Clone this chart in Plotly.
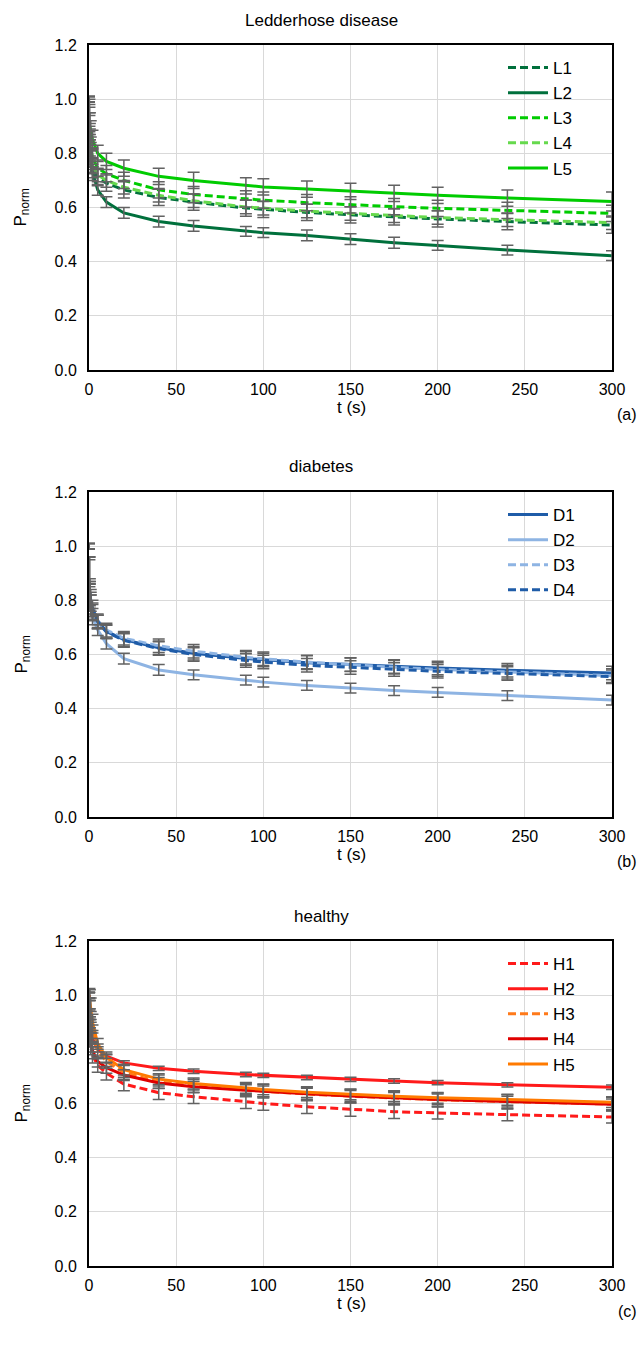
import plotly.graph_objects as go

# Sampling times (s) of the normalised relaxation curves
T = [0, 0.25, 0.5, 1, 2, 5, 10, 20, 40, 60, 90, 100, 125, 150, 175, 200, 240, 300]

# Ledderhose disease
L1 = [1.00, 0.90, 0.82, 0.78, 0.745, 0.71, 0.69, 0.665, 0.637, 0.62, 0.598, 0.593, 0.582, 0.573, 0.565, 0.558, 0.548, 0.535]
L2 = [1.00, 0.89, 0.80, 0.77, 0.73, 0.665, 0.62, 0.58, 0.548, 0.532, 0.512, 0.507, 0.497, 0.483, 0.47, 0.46, 0.443, 0.422]
L3 = [1.00, 0.93, 0.86, 0.82, 0.785, 0.745, 0.725, 0.70, 0.665, 0.648, 0.632, 0.627, 0.618, 0.61, 0.603, 0.597, 0.589, 0.578]
L4 = [1.00, 0.92, 0.84, 0.79, 0.755, 0.72, 0.70, 0.675, 0.645, 0.625, 0.602, 0.597, 0.587, 0.578, 0.57, 0.563, 0.555, 0.544]
L5 = [1.00, 0.95, 0.90, 0.88, 0.85, 0.80, 0.77, 0.745, 0.715, 0.70, 0.68, 0.676, 0.668, 0.66, 0.652, 0.645, 0.635, 0.622]
L1_err = [0.01, 0.05, 0.05, 0.04, 0.035, 0.03, 0.03, 0.03, 0.03, 0.03, 0.03, 0.03, 0.03, 0.03, 0.03, 0.03, 0.03, 0.03]
L2_err = [0.01, 0.05, 0.05, 0.04, 0.03, 0.02, 0.02, 0.02, 0.02, 0.02, 0.018, 0.018, 0.02, 0.02, 0.02, 0.018, 0.018, 0.018]
L3_err = [0.01, 0.05, 0.05, 0.04, 0.035, 0.03, 0.03, 0.03, 0.03, 0.03, 0.03, 0.03, 0.03, 0.03, 0.03, 0.03, 0.03, 0.03]
L4_err = [0.01, 0.05, 0.05, 0.04, 0.03, 0.025, 0.025, 0.025, 0.025, 0.025, 0.025, 0.025, 0.025, 0.025, 0.025, 0.025, 0.025, 0.025]
L5_err = [0.01, 0.05, 0.05, 0.04, 0.035, 0.03, 0.03, 0.03, 0.03, 0.03, 0.03, 0.03, 0.03, 0.03, 0.03, 0.03, 0.03, 0.035]

# diabetes
D1 = [1.00, 0.91, 0.83, 0.80, 0.77, 0.725, 0.685, 0.655, 0.625, 0.605, 0.585, 0.58, 0.57, 0.563, 0.556, 0.55, 0.542, 0.532]
D2 = [1.00, 0.91, 0.82, 0.78, 0.74, 0.69, 0.64, 0.585, 0.543, 0.525, 0.505, 0.498, 0.486, 0.476, 0.467, 0.46, 0.448, 0.432]
D3 = [1.00, 0.90, 0.81, 0.78, 0.755, 0.72, 0.69, 0.66, 0.632, 0.612, 0.59, 0.584, 0.572, 0.562, 0.553, 0.545, 0.535, 0.522]
D4 = [1.00, 0.91, 0.82, 0.79, 0.76, 0.72, 0.683, 0.652, 0.622, 0.60, 0.578, 0.572, 0.56, 0.552, 0.545, 0.538, 0.53, 0.518]
D1_err = [0.01, 0.05, 0.05, 0.04, 0.03, 0.025, 0.025, 0.025, 0.025, 0.025, 0.025, 0.025, 0.025, 0.025, 0.025, 0.025, 0.025, 0.025]
D2_err = [0.01, 0.05, 0.05, 0.04, 0.03, 0.02, 0.02, 0.02, 0.02, 0.018, 0.018, 0.018, 0.018, 0.018, 0.018, 0.018, 0.018, 0.018]
D3_err = [0.01, 0.05, 0.05, 0.04, 0.03, 0.025, 0.025, 0.025, 0.025, 0.025, 0.025, 0.025, 0.025, 0.025, 0.025, 0.025, 0.025, 0.025]
D4_err = [0.01, 0.05, 0.05, 0.04, 0.03, 0.025, 0.025, 0.025, 0.025, 0.025, 0.025, 0.025, 0.025, 0.025, 0.025, 0.025, 0.025, 0.025]

# healthy
H1 = [1.00, 0.93, 0.86, 0.82, 0.78, 0.74, 0.712, 0.672, 0.64, 0.625, 0.607, 0.60, 0.588, 0.578, 0.57, 0.565, 0.558, 0.55]
H2 = [1.00, 0.95, 0.91, 0.87, 0.84, 0.80, 0.775, 0.75, 0.73, 0.719, 0.707, 0.704, 0.696, 0.689, 0.683, 0.677, 0.669, 0.66]
H3 = [1.00, 0.96, 0.93, 0.90, 0.86, 0.795, 0.755, 0.715, 0.68, 0.665, 0.65, 0.645, 0.635, 0.627, 0.62, 0.614, 0.607, 0.598]
H4 = [1.00, 0.93, 0.87, 0.83, 0.795, 0.755, 0.732, 0.705, 0.676, 0.662, 0.649, 0.645, 0.636, 0.628, 0.621, 0.615, 0.607, 0.597]
H5 = [1.00, 0.985, 0.97, 0.95, 0.90, 0.82, 0.77, 0.725, 0.69, 0.674, 0.658, 0.652, 0.642, 0.634, 0.627, 0.621, 0.614, 0.605]
H1_err = [0.01, 0.05, 0.05, 0.04, 0.03, 0.025, 0.025, 0.025, 0.025, 0.025, 0.025, 0.025, 0.025, 0.025, 0.025, 0.022, 0.022, 0.022]
H2_err = [0.01, 0.04, 0.04, 0.03, 0.02, 0.01, 0.008, 0.008, 0.008, 0.008, 0.008, 0.008, 0.008, 0.008, 0.008, 0.008, 0.008, 0.008]
H3_err = [0.01, 0.05, 0.05, 0.04, 0.03, 0.025, 0.025, 0.025, 0.025, 0.025, 0.025, 0.025, 0.025, 0.025, 0.025, 0.025, 0.025, 0.025]
H4_err = [0.01, 0.05, 0.05, 0.04, 0.03, 0.02, 0.02, 0.02, 0.02, 0.02, 0.02, 0.02, 0.02, 0.02, 0.02, 0.02, 0.02, 0.02]
H5_err = [0.01, 0.04, 0.05, 0.04, 0.03, 0.02, 0.02, 0.02, 0.02, 0.02, 0.02, 0.02, 0.02, 0.02, 0.02, 0.02, 0.02, 0.02]

X_TICKS = [0, 50, 100, 150, 200, 250, 300]
Y_TICKS = [0.0, 0.2, 0.4, 0.6, 0.8, 1.0, 1.2]
TITLES = ["Ledderhose disease", "diabetes", "healthy"]
TAGS = ["(a)", "(b)", "(c)"]
# first sample index from which each panel's curves are drawn
CURVE_START = [2, 2, 0]

W, H = 642, 1349
ML, MR, MT, MB = 89, 30, 45, 83
PW, PH = W - ML - MR, H - MT - MB
# top / bottom pixel rows of the three plot areas
PANELS = [(45, 370), (492, 817), (941, 1266)]


def px(x):
    return (x - ML) / PW


def py(y):
    return (H - MB - y) / PH


FONT = "Liberation Sans, Arial, sans-serif"
DASH = "8px,4px"
groups = [
    [("L1", L1, L1_err, "#00703C", DASH), ("L2", L2, L2_err, "#00703C", "solid"),
     ("L3", L3, L3_err, "#00CC00", DASH), ("L4", L4, L4_err, "#66D94D", DASH),
     ("L5", L5, L5_err, "#00CC00", "solid")],
    [("D1", D1, D1_err, "#1F5CA8", "solid"), ("D2", D2, D2_err, "#8EB4E3", "solid"),
     ("D3", D3, D3_err, "#8EB4E3", DASH), ("D4", D4, D4_err, "#1F5CA8", DASH)],
    [("H1", H1, H1_err, "#FF1A1A", DASH), ("H2", H2, H2_err, "#FF1A1A", "solid"),
     ("H3", H3, H3_err, "#FF7A1A", DASH), ("H4", H4, H4_err, "#E00000", "solid"),
     ("H5", H5, H5_err, "#FF7A00", "solid")],
]

fig = go.Figure()
layout = dict(
    width=W, height=H, margin=dict(l=ML, r=MR, t=MT, b=MB),
    paper_bgcolor="white", plot_bgcolor="white",
    font=dict(family=FONT, size=16, color="#000"),
    annotations=[],
)

for i, series in enumerate(groups):
    n = "" if i == 0 else str(i + 1)
    xa, ya = "x" + n, "y" + n
    leg = "legend" + n
    top, bot = PANELS[i]
    s = CURVE_START[i]
    # fitted curves
    for name, vals, err, color, dash in series:
        fig.add_trace(go.Scatter(
            x=T[s:], y=vals[s:], mode="lines", name=name, xaxis=xa, yaxis=ya, legend=leg,
            line=dict(color=color, width=3, dash=dash),
        ))
    # measured points with standard deviation bars
    for name, vals, err, color, dash in series:
        fig.add_trace(go.Scatter(
            x=T, y=vals, mode="markers", showlegend=False, xaxis=xa, yaxis=ya,
            marker=dict(size=1, color="rgba(0,0,0,0)"),
            error_y=dict(type="data", array=err, visible=True, color="#626262",
                         thickness=1.5, width=6),
            hoverinfo="skip",
        ))

    axis_common = dict(
        showgrid=True, gridcolor="#D9D9D9", gridwidth=1,
        showline=True, linecolor="#000", linewidth=2, mirror=True,
        zeroline=False, ticks="", tickfont=dict(family=FONT, size=16, color="#000"),
    )
    layout["xaxis" + n] = dict(axis_common, domain=[0, 1], range=[0, 300],
                               tickvals=X_TICKS, anchor=ya, ticklabelstandoff=4)
    layout["yaxis" + n] = dict(axis_common, domain=[py(bot), py(top)], range=[0, 1.2],
                               tickvals=Y_TICKS, tickformat=".1f", anchor=xa,
                               ticklabelstandoff=7)
    layout[leg] = dict(
        x=px(503), y=py(top + 5), xanchor="left", yanchor="top",
        bgcolor="rgba(0,0,0,0)", borderwidth=0, itemwidth=40,
        font=dict(family=FONT, size=17, color="#000"), tracegroupgap=0,
    )
    ann = layout["annotations"]
    ann.append(dict(text=TITLES[i], x=px(321), y=py(top - 25), xref="paper", yref="paper",
                    showarrow=False, font=dict(size=17), xanchor="center", yanchor="middle"))
    ann.append(dict(text="t (s)", x=px(351), y=py(bot + 37), xref="paper", yref="paper",
                    showarrow=False, font=dict(size=17), xanchor="center", yanchor="middle"))
    ann.append(dict(text=TAGS[i], x=px(639), y=py(bot + 45), xref="paper", yref="paper",
                    showarrow=False, font=dict(size=16), xanchor="right", yanchor="middle"))
    ann.append(dict(text="P<sub>norm</sub>", x=px(22), y=py((top + bot) / 2),
                    xref="paper", yref="paper", showarrow=False, textangle=-90,
                    font=dict(size=17), xanchor="center", yanchor="middle"))

fig.update_layout(**layout)
fig.write_html("out.html")
